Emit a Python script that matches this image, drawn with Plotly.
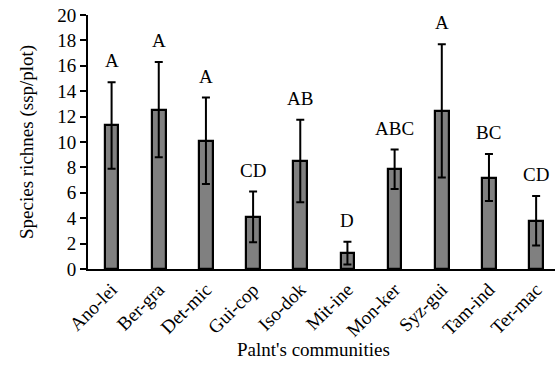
import plotly.graph_objects as go

communities = ["Ano-lei", "Ber-gra", "Det-mic", "Gui-cop", "Iso-dok",
               "Mit-ine", "Mon-ker", "Syz-gui", "Tam-ind", "Ter-mac"]
richness = [11.3, 12.55, 10.1, 4.1, 8.5, 1.25, 7.85, 12.45, 7.2, 3.8]
errors = [3.4, 3.75, 3.4, 2.0, 3.25, 0.9, 1.55, 5.25, 1.85, 1.95]
groups = ["A", "A", "A", "CD", "AB", "D", "ABC", "A", "BC", "CD"]
y_ticks = [0, 2, 4, 6, 8, 10, 12, 14, 16, 18, 20]

FONT = "Liberation Serif, Times New Roman, serif"
FS = 19
W, H = 555, 369
L, R, T, B = 88, 0, 14.5, 99.5

fig = go.Figure()
fig.add_trace(go.Bar(
    x=list(range(len(communities))),
    y=richness,
    width=0.29,
    marker=dict(color="#808080", line=dict(color="black", width=2.2)),
    error_y=dict(type="data", array=errors, visible=True,
                 color="black", thickness=2, width=4),
    showlegend=False,
))

annotations = []
for i, (m, e, g) in enumerate(zip(richness, errors, groups)):
    annotations.append(dict(
        x=i, y=m + e, xref="x", yref="y", text=g, showarrow=False,
        yanchor="bottom", yshift=9,
        font=dict(family=FONT, size=FS, color="black"),
    ))

plot_h = H - T - B
plot_w = W - L - R
annotations.append(dict(
    x=(313 - L) / plot_w, y=-(350 - (H - B)) / plot_h,
    xref="paper", yref="paper", text="Palnt's communities",
    showarrow=False, xanchor="center", yanchor="middle",
    font=dict(family=FONT, size=FS, color="black"),
))
annotations.append(dict(
    x=(27 - L) / plot_w, y=0.5, xref="paper", yref="paper",
    text="Species richnes (ssp/plot)", textangle=-90,
    showarrow=False, xanchor="center", yanchor="middle",
    font=dict(family=FONT, size=FS, color="black"),
))

fig.update_layout(
    width=W, height=H,
    margin=dict(l=L, r=R, t=T, b=B, pad=0),
    paper_bgcolor="white", plot_bgcolor="white",
    font=dict(family=FONT, size=FS, color="black"),
    annotations=annotations,
    bargap=0,
    xaxis=dict(
        range=[-0.5, 9.4],
        tickmode="array",
        tickvals=list(range(len(communities))),
        ticktext=communities,
        tickangle=-45,
        showline=True, linecolor="black", linewidth=2,
        ticks="", showgrid=False, zeroline=False,
        tickfont=dict(family=FONT, size=FS, color="black"),
        automargin=False,
    ),
    yaxis=dict(
        range=[0, 20],
        tickmode="array",
        tickvals=y_ticks,
        showline=True, linecolor="black", linewidth=2,
        ticks="outside", ticklen=6, tickwidth=2, tickcolor="black",
        showgrid=False, zeroline=False,
        tickfont=dict(family=FONT, size=FS, color="black"),
        automargin=False,
    ),
)

fig.write_html("out.html")
